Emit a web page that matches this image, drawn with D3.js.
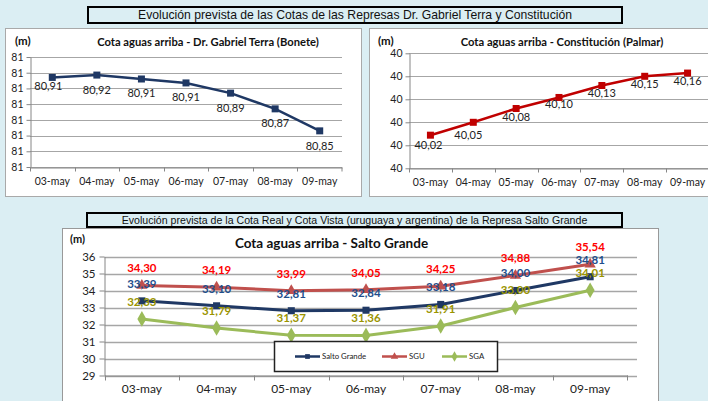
<!DOCTYPE html>
<html><head><meta charset="utf-8">
<script src="https://cdn.jsdelivr.net/npm/d3@7"></script>
<style>
body{margin:0;background:#dbeef3;}
svg{display:block;}
text{font-family:Lato,"Open Sans",sans-serif;}
</style></head>
<body>
<svg id="c" width="708" height="401"></svg>
<script>
// ---------- data ----------
const days = ["03-may","04-may","05-may","06-may","07-may","08-may","09-may"];
const boneteValues = [80.914, 80.917, 80.912, 80.907, 80.894, 80.874, 80.846];
const boneteTicks = [80.80, 80.82, 80.84, 80.86, 80.88, 80.90, 80.92, 80.94];
const palmarValues = [40.022, 40.05, 40.08, 40.104, 40.13, 40.15, 40.157];
const palmarTicks = [39.95, 40.00, 40.05, 40.10, 40.15, 40.20];
const saltoGrande = [33.39, 33.10, 32.81, 32.84, 33.18, 34.00, 34.81];
const sgu = [34.30, 34.19, 33.99, 34.05, 34.25, 34.88, 35.54];
const sga = [32.33, 31.79, 31.37, 31.36, 31.91, 33.00, 34.01];
const saltoTicks = [29, 30, 31, 32, 33, 34, 35, 36];
const seriesNames = ["Salto Grande", "SGU", "SGA"];

const mainTitle = "Evolución prevista de las Cotas de las Represas Dr. Gabriel Terra y Constitución";
const saltoHeader = "Evolución prevista de la Cota Real y Cota Vista (uruguaya y argentina) de la Represa Salto Grande";
const boneteTitle = "Cota aguas arriba - Dr. Gabriel Terra (Bonete)";
const palmarTitle = "Cota aguas arriba - Constitución (Palmar)";
const saltoTitle = "Cota aguas arriba - Salto Grande";

// ---------- helpers ----------
const loc = d3.formatLocale({decimal:",", thousands:".", grouping:[3], currency:["",""]});
const fmt2 = loc.format(".2f");
const fmt0 = d3.format(".0f");
const svg = d3.select("#c");

function headerBox(x, y, w, h, txt, fs){
  svg.append("rect").attr("x",x).attr("y",y).attr("width",w).attr("height",h)
    .attr("fill","#dbeef3").attr("stroke","#000").attr("stroke-width",2);
  svg.append("text").attr("x",x+w/2).attr("y",y+h/2+1).attr("text-anchor","middle")
    .attr("dominant-baseline","middle").style("font-family","'Liberation Sans',Arial,sans-serif")
    .style("font-size",fs+"px").attr("fill","#111").text(txt);
}
function panel(x,y,w,h,stroke){
  svg.append("rect").attr("x",x+0.5).attr("y",y+0.5).attr("width",w).attr("height",h)
    .attr("fill","#fff").attr("stroke",stroke).attr("stroke-width",1);
}

function drawSmall(opt){
  const g = svg.append("g");
  const x = d3.scaleBand().domain(days).range(opt.xr).padding(0);
  const y = d3.scaleLinear().domain(opt.yd).range(opt.yr);
  g.append("g").selectAll("line").data(opt.ticks).join("line")
    .attr("x1",opt.xr[0]).attr("x2",opt.xr[1])
    .attr("y1",d=>Math.round(y(d))+0.5).attr("y2",d=>Math.round(y(d))+0.5)
    .attr("stroke","#a6a6a6").attr("stroke-width",1);
  const ya = g.append("g").attr("transform",`translate(${opt.xr[0]+0.5},0)`)
    .call(d3.axisLeft(y).tickValues(opt.ticks).tickFormat(fmt0).tickSize(4).tickSizeOuter(0));
  ya.select(".domain").attr("stroke","#868686");
  ya.selectAll(".tick line").attr("stroke","#868686");
  ya.selectAll(".tick text").style("font-family","Lato,sans-serif").style("font-size","10.5px").attr("fill","#222").attr("x",-7);
  const by = Math.round(opt.yr[0])+0.5;
  const xa = g.append("g").attr("transform",`translate(0,${by})`)
    .call(d3.axisBottom(x).tickSize(0).tickSizeOuter(0).tickPadding(10));
  xa.select(".domain").attr("stroke","#868686");
  xa.selectAll(".tick text").style("font-family","Lato,sans-serif").style("font-size","10.5px").attr("fill","#222");
  g.append("g").selectAll("line").data(days.concat(["_end"])).join("line")
    .attr("x1",d=>d==="_end"?opt.xr[1]:Math.round(x(d))+0.5).attr("x2",d=>d==="_end"?opt.xr[1]:Math.round(x(d))+0.5)
    .attr("y1",by).attr("y2",by+4).attr("stroke","#868686");
  const cx = d=>x(d)+x.bandwidth()/2;
  g.append("path").datum(opt.values)
    .attr("d",d3.line().x((d,i)=>cx(days[i])).y(d=>y(d)))
    .attr("fill","none").attr("stroke",opt.color).attr("stroke-width",2.5);
  g.append("g").selectAll("rect").data(opt.values).join("rect")
    .attr("x",(d,i)=>cx(days[i])-3.5).attr("y",d=>y(d)-3.5).attr("width",7).attr("height",7)
    .attr("fill",opt.color);
  g.append("g").selectAll("text").data(opt.values).join("text")
    .attr("x",(d,i)=>cx(days[i]) + (opt.ldx?opt.ldx[i]:0))
    .attr("y",(d,i)=>y(d)+opt.ldy[i]).attr("text-anchor","middle").attr("dominant-baseline","middle")
    .style("font-size","11px").attr("fill","#222").text(fmt2);
  g.append("text").attr("x",opt.titleX).attr("y",opt.titleY).attr("text-anchor","middle")
    .attr("dominant-baseline","middle").style("font-weight","bold").style("font-size","11.2px")
    .attr("fill","#111").text(opt.title);
  g.append("text").attr("x",opt.mX).attr("y",opt.titleY-1).attr("dominant-baseline","middle")
    .style("font-weight","bold").style("font-size","11.5px").attr("fill","#111").text("(m)");
}

// ---------- layout ----------
headerBox(88, 7, 534, 16, mainTitle, 12.2);
panel(5, 28, 356, 168, "#a9a9a9");
panel(369, 28, 345, 168, "#a9a9a9");

drawSmall({xr:[30,342], yd:[80.80,80.94], yr:[167,57], ticks:boneteTicks, values:boneteValues,
  color:"#1f3864", title:boneteTitle, titleX:208, titleY:43, mX:15,
  ldy:[10,16,15,15.5,16,15.5,16], ldx:[-4,0,0,0,0,0,0]});
drawSmall({xr:[409,709], yd:[39.95,40.20], yr:[168.3,53.3], ticks:palmarTicks, values:palmarValues,
  color:"#c00000", title:palmarTitle, titleX:562, titleY:43, mX:378,
  ldy:[11,14,10,8,9,9,9], ldx:[-2,-5,0,0,0,0,0]});

// ---------- Salto Grande ----------
headerBox(87, 213, 535, 14, saltoHeader, 10.6);
panel(62, 228, 596, 180, "#999");
(function(){
  const g = svg.append("g");
  const xr = [104.5, 627.5];
  const x = d3.scaleBand().domain(days).range(xr).padding(0);
  const y = d3.scaleLinear().domain([29,36]).range([375.5,256.5]);
  const cx = d=>x(d)+x.bandwidth()/2;
  g.append("g").selectAll("line").data(saltoTicks).join("line")
    .attr("x1",xr[0]).attr("x2",637).attr("y1",d=>Math.round(y(d))+0.5).attr("y2",d=>Math.round(y(d))+0.5)
    .attr("stroke","#a6a6a6").attr("stroke-width",1.3);
  const ya = g.append("g").attr("transform",`translate(${xr[0]},0)`)
    .call(d3.axisLeft(y).tickValues(saltoTicks).tickFormat(fmt0).tickSize(5).tickSizeOuter(0));
  ya.select(".domain").attr("stroke","#868686");
  ya.selectAll(".tick line").attr("stroke","#868686");
  ya.selectAll(".tick text").style("font-family","Lato,sans-serif").style("font-size","11.5px").attr("fill","#222").attr("x",-9);
  const by = 375.5;
  const xa = g.append("g").attr("transform",`translate(0,${by})`)
    .call(d3.axisBottom(x).tickSize(0).tickSizeOuter(0).tickPadding(9));
  xa.select(".domain").attr("stroke","#868686");
  xa.selectAll(".tick text").style("font-family","Lato,sans-serif").style("font-size","12px").attr("fill","#222");
  g.append("g").selectAll("line").data(days.concat(["_end"])).join("line")
    .attr("x1",d=>d==="_end"?xr[1]:Math.round(x(d))+0.5).attr("x2",d=>d==="_end"?xr[1]:Math.round(x(d))+0.5)
    .attr("y1",by).attr("y2",by+5).attr("stroke","#868686");

  const series = [
    {name:seriesNames[0], values:saltoGrande, color:"#1f3864", label:"#1f4e8c", marker:"square"},
    {name:seriesNames[1], values:sgu, color:"#c0504d", label:"#ff0000", marker:"triangle"},
    {name:seriesNames[2], values:sga, color:"#9bbb59", label:"#9a9400", marker:"diamond"}
  ];
  const sym = {square:d3.symbolSquare, triangle:d3.symbolTriangle, diamond:d3.symbolDiamond};
  const symSize = {square:50, triangle:55, diamond:70};
  const line = d3.line().x((d,i)=>cx(days[i])).y(d=>y(d));
  [series[2], series[1], series[0]].forEach(s=>{
    g.append("path").datum(s.values).attr("d",line).attr("fill","none")
      .attr("stroke",s.color).attr("stroke-width",3);
    g.append("g").selectAll("path").data(s.values).join("path")
      .attr("transform",(d,i)=>`translate(${cx(days[i])},${y(d)})`)
      .attr("d",d3.symbol().type(sym[s.marker]).size(symSize[s.marker])).attr("fill",s.color);
  });
  g.append("rect").attr("x",274.5).attr("y",341.5).attr("width",223).attr("height",30)
    .attr("fill","#fff").attr("stroke","#222").attr("stroke-width",1.5);
  const legX = [295, 382, 442];
  series.forEach((s,i)=>{
    const lg = g.append("g").attr("transform",`translate(${legX[i]},356.5)`);
    lg.append("line").attr("x1",0).attr("x2",25).attr("stroke",s.color).attr("stroke-width",2.5);
    lg.append("path").attr("transform","translate(12.5,0)")
      .attr("d",d3.symbol().type(sym[s.marker]).size(symSize[s.marker]*0.45)).attr("fill",s.color);
    lg.append("text").attr("x",27).attr("y",0.5).attr("dominant-baseline","middle")
      .style("font-size","7.8px").attr("fill","#222").text(s.name);
  });
  series.forEach(s=>{
    g.append("g").selectAll("text").data(s.values).join("text")
      .attr("x",(d,i)=>cx(days[i])).attr("y",d=>y(d)-16)
      .attr("text-anchor","middle").attr("dominant-baseline","middle")
      .style("font-size","11.5px").style("font-weight","bold").attr("fill",s.label).text(fmt2);
  });
  g.append("text").attr("x",331.5).attr("y",244.5).attr("text-anchor","middle").attr("dominant-baseline","middle")
    .style("font-weight","bold").style("font-size","13.5px").attr("fill","#111").text(saltoTitle);
  g.append("text").attr("x",70).attr("y",240.5).attr("dominant-baseline","middle")
    .style("font-weight","bold").style("font-size","11px").attr("fill","#111").text("(m)");
})();
</script>
</body></html>
